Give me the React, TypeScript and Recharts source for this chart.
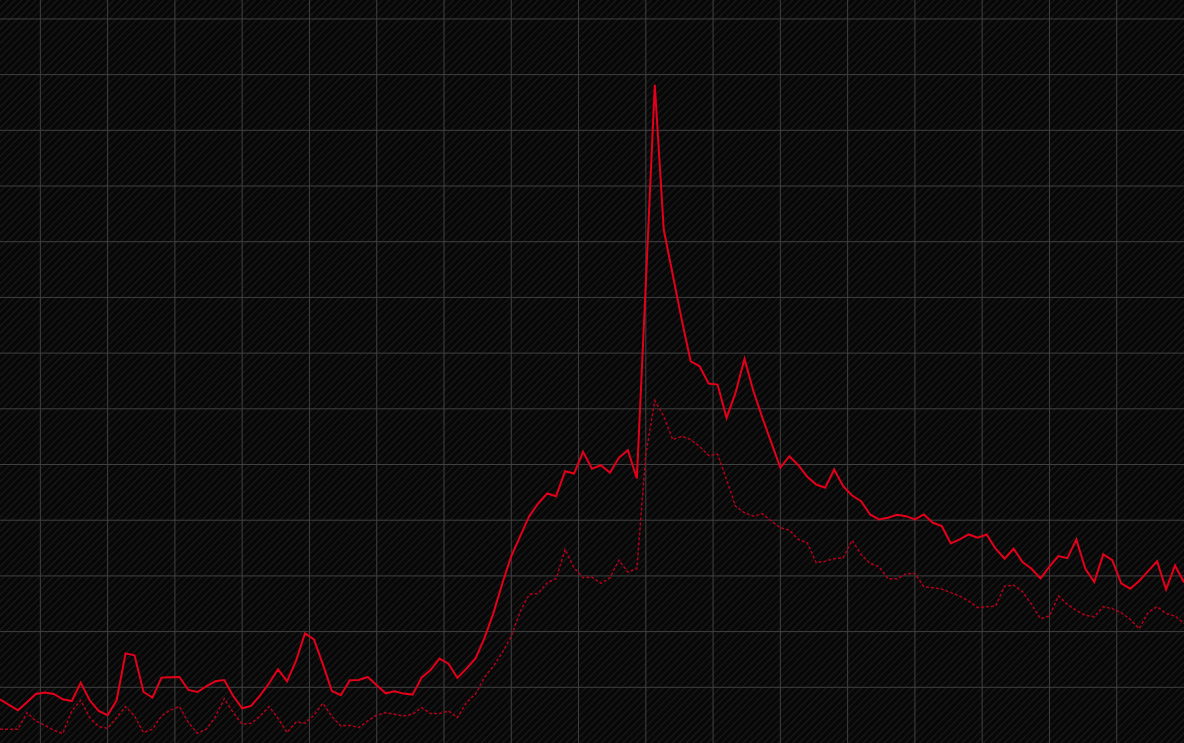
import React from 'react';
import { LineChart, Line, XAxis, YAxis, CartesianGrid } from 'recharts';

// values, one per step (grid step = 10)
const mainSeries = [
    7.85, 6.86, 5.87, 7.31, 8.8, 9.05, 8.8, 7.85, 7.54, 10.84,
    7.67, 5.75, 4.98, 7.67, 16.1, 15.74, 9.16, 8.15, 11.74, 11.79,
    11.85, 9.52, 9.16, 10.18, 11.08, 11.31, 8.44, 6.23, 6.65, 8.57,
    10.72, 13.23, 11.08, 14.72, 19.69, 18.61, 14.13, 9.34, 8.57, 11.26,
    11.31, 11.85, 10.36, 8.92, 9.28, 8.87, 8.69, 11.74, 13.1, 15.15,
    14.25, 11.67, 13.35, 15.15, 18.79, 23.27, 28.65, 33.55, 37.14, 40.73,
    43.0, 44.8, 44.31, 48.8, 48.39, 52.28, 49.23, 49.87, 48.51, 51.2,
    52.56, 47.49, 82.47, 118.16, 92.15, 84.08, 76.01, 68.53, 67.63, 64.53,
    64.35, 58.38, 62.86, 68.96, 63.15, 58.38, 53.89, 49.41, 51.49, 49.87,
    47.79, 46.41, 45.82, 49.1, 46.11, 44.44, 43.42, 41.03, 40.13, 40.44,
    40.98, 40.73, 40.13, 41.03, 39.54, 38.93, 35.83, 36.55, 37.44, 36.85,
    37.44, 34.88, 33.09, 34.88, 32.48, 31.29, 29.55, 31.65, 33.55, 33.19,
    36.55, 31.29, 28.89, 33.86, 32.83, 28.65, 27.7, 29.07, 30.86, 32.65,
    27.58, 31.88, 28.83,
];

const lowerSeries = [
    2.47, 2.47, 2.47, 5.46, 3.96, 3.18, 2.29, 1.7, 5.75, 7.67,
    4.57, 2.95, 2.65, 4.57, 6.54, 4.85, 1.87, 2.47, 4.85, 5.93,
    6.54, 3.67, 1.75, 2.47, 4.67, 7.97, 5.46, 3.36, 3.54, 4.85,
    6.54, 4.44, 1.87, 3.78, 3.54, 4.98, 7.13, 4.74, 3.06, 3.18,
    2.77, 3.96, 4.98, 5.46, 5.16, 4.85, 5.16, 6.36, 5.28, 5.28,
    5.75, 4.57, 7.26, 8.74, 11.74, 13.82, 16.22, 19.15, 23.63, 26.68,
    26.86, 28.78, 29.5, 34.75, 31.47, 29.68, 29.78, 28.65, 29.68, 32.83,
    30.68, 31.29, 51.79, 61.48, 58.66, 54.48, 55.08, 54.48, 53.23, 51.61,
    51.88, 47.31, 42.52, 41.34, 40.73, 41.16, 39.83, 38.65, 38.22, 36.55,
    35.96, 32.37, 32.65, 33.09, 33.26, 36.37, 33.86, 32.24, 31.65, 29.5,
    29.46, 30.36, 30.45, 28.03, 27.88, 27.65, 26.99, 26.38, 25.48, 24.3,
    24.48, 24.58, 28.17, 28.35, 27.17, 24.89, 22.32, 22.79, 26.38, 24.89,
    23.81, 22.91, 22.68, 24.48, 24.12, 23.4, 22.2, 20.53, 23.4, 24.48,
    23.27, 22.79, 21.48,
];

const gridXTicks = [4.5, 12, 19.5, 27, 34.5, 42, 49.5, 57, 64.5, 72, 79.5, 87, 94.5, 102, 109.5, 117, 124.5];
const gridYTicks = [10, 20, 30, 40, 50, 60, 70, 80, 90, 100, 110, 120, 130];

const X_DOMAIN: [number, number] = [0, 132];
const Y_DOMAIN: [number, number] = [0, 133.4];
const W = 1184;
const H = 743;

const chartData = mainSeries.map((v, i) => ({ i, main: v, lower: lowerSeries[i] }));

// grid lines only at the ticks (no lines on the outer edges)
const vGen = (props: any) => {
    const s = props?.xAxis?.scale;
    if (typeof s === 'function') return gridXTicks.map((t) => s(t));
    return gridXTicks.map((t) => (t / X_DOMAIN[1]) * W);
};
const hGen = (props: any) => {
    const s = props?.yAxis?.scale;
    if (typeof s === 'function') return gridYTicks.map((t) => s(t));
    return gridYTicks.map((t) => H - (t / Y_DOMAIN[1]) * H);
};

export default function App() {
    return (
        <div style={{ position: 'absolute', left: 0, top: 0, width: W, height: H, background: '#070707' }}>
            <LineChart width={W} height={H} data={chartData} margin={{ top: 0, right: 0, bottom: 0, left: 0 }}>
                <defs>
                    <pattern id="hatch" width="5" height="5" patternUnits="userSpaceOnUse" patternTransform="rotate(45)">
                        <rect width="5" height="5" fill="#070707" />
                        <rect width="1.2" height="5" fill="#1b1b1b" />
                    </pattern>
                </defs>
                <CartesianGrid
                    stroke="#404040"
                    strokeWidth={1}
                    fill="url(#hatch)"
                    fillOpacity={1}
                    verticalCoordinatesGenerator={vGen}
                    horizontalCoordinatesGenerator={hGen}
                />
                <XAxis dataKey="i" type="number" domain={X_DOMAIN} ticks={gridXTicks} hide />
                <YAxis type="number" domain={Y_DOMAIN} ticks={gridYTicks} hide />
                <Line
                    type="linear"
                    dataKey="lower"
                    stroke="#b3001b"
                    strokeWidth={1.5}
                    strokeDasharray="3 2"
                    dot={false}
                    activeDot={false}
                    isAnimationActive={false}
                />
                <Line
                    type="linear"
                    dataKey="main"
                    stroke="#e4001b"
                    strokeWidth={2}
                    dot={false}
                    activeDot={false}
                    isAnimationActive={false}
                />
            </LineChart>
        </div>
    );
}
